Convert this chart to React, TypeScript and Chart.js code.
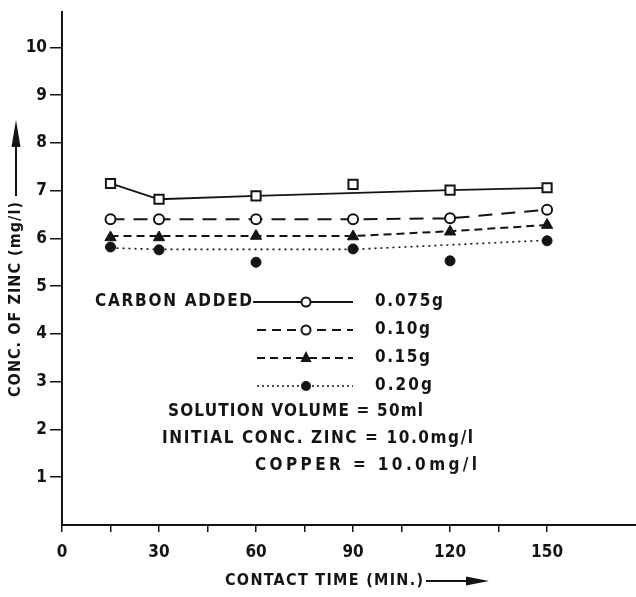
import React, { useEffect, useRef } from 'react';
import { Chart, registerables } from 'chart.js';

Chart.register(...registerables);

// ---- data ----
const contactTime = [15, 30, 60, 90, 120, 150];
const zinc075 = [7.15, 6.82, 6.89, 7.13, 7.01, 7.06];
const zinc010 = [6.4, 6.4, 6.4, 6.4, 6.42, 6.6];
const zinc015 = [6.02, 6.02, 6.05, 6.04, 6.14, 6.28];
const zinc020 = [5.82, 5.76, 5.5, 5.78, 5.53, 5.95];
// hand-drawn curves (null = marker lying off the curve)
const curve075 = [7.15, 6.82, 6.89, null, 7.01, 7.06];
const curve010 = [6.4, 6.4, 6.4, 6.4, 6.42, 6.6];
const curve015 = [6.05, 6.05, 6.05, 6.05, 6.15, 6.28];
const curve020 = [5.8, 5.77, null, 5.77, null, 5.96];

const xTickValues = [0, 15, 30, 45, 60, 75, 90, 105, 120, 135, 150];
const xLabelValues = [0, 30, 60, 90, 120, 150];
const yTickValues = [1, 2, 3, 4, 5, 6, 7, 8, 9, 10];

const legendLabels = ['0.075g', '0.10g', '0.15g', '0.20g'];
const legendTitle = 'CARBON ADDED';
const noteLines = ['SOLUTION VOLUME = 50ml', 'INITIAL CONC. ZINC = 10.0mg/l', 'COPPER = 10.0mg/l'];
const xTitle = 'CONTACT TIME (MIN.)';
const yTitle = 'CONC. OF ZINC (mg/l)';

const INK = '#141414';
const FONT = "'DejaVu Sans Condensed', 'DejaVu Sans', sans-serif";

const pts = (ys: (number | null)[]) => contactTime.map((x, i) => ({ x, y: ys[i] }));

function fitText(ctx: CanvasRenderingContext2D, text: string, x: number, y: number, width: number, font: string) {
  ctx.save();
  ctx.font = font;
  (ctx as any).letterSpacing = '0px';
  const w = ctx.measureText(text).width;
  const ls = text.length > 1 ? (width - w) / (text.length - 1) : 0;
  (ctx as any).letterSpacing = ls.toFixed(2) + 'px';
  ctx.textAlign = 'left';
  ctx.textBaseline = 'middle';
  ctx.fillStyle = INK;
  ctx.fillText(text, x, y);
  ctx.restore();
}

function marker(ctx: CanvasRenderingContext2D, kind: string, x: number, y: number) {
  ctx.save();
  ctx.lineWidth = 2;
  ctx.strokeStyle = INK;
  ctx.fillStyle = INK;
  ctx.setLineDash([]);
  ctx.beginPath();
  if (kind === 'openCircle') {
    ctx.arc(x, y, 4.5, 0, Math.PI * 2);
    ctx.fillStyle = '#fff';
    ctx.fill();
    ctx.stroke();
  } else if (kind === 'triangle') {
    ctx.moveTo(x, y - 7);
    ctx.lineTo(x + 5.5, y + 4);
    ctx.lineTo(x - 5.5, y + 4);
    ctx.closePath();
    ctx.fill();
  } else if (kind === 'dot') {
    ctx.arc(x, y, 5, 0, Math.PI * 2);
    ctx.fill();
  }
  ctx.restore();
}

const annotationPlugin = {
  id: 'annotations',
  afterDraw(chart: any) {
    const ctx: CanvasRenderingContext2D = chart.ctx;
    const font = `bold 17px ${FONT}`;
    // legend
    fitText(ctx, legendTitle, 95, 302, 157, font);
    const rows = [302, 330, 358, 386];
    const dashes = [[], [9, 6], [8, 5], [2, 3]];
    const kinds = ['openCircle', 'openCircle', 'triangle', 'dot'];
    const labelW = [68, 55, 55, 57];
    rows.forEach((ry, i) => {
      ctx.save();
      ctx.strokeStyle = INK;
      ctx.lineWidth = i === 3 ? 1.5 : 2;
      ctx.setLineDash(dashes[i]);
      ctx.beginPath();
      ctx.moveTo(i === 0 ? 253 : 257, ry);
      ctx.lineTo(353, ry);
      ctx.stroke();
      ctx.restore();
      marker(ctx, kinds[i], 306, ry);
      fitText(ctx, legendLabels[i], 375, ry, labelW[i], font);
    });
    // notes
    fitText(ctx, noteLines[0], 168, 412, 255, font);
    fitText(ctx, noteLines[1], 162, 439, 311, font);
    fitText(ctx, noteLines[2], 255, 466, 222, font);

    // x title with arrow
    fitText(ctx, xTitle, 225, 581, 198, `bold 16px ${FONT}`);
    ctx.save();
    ctx.strokeStyle = INK;
    ctx.fillStyle = INK;
    ctx.lineWidth = 2;
    ctx.beginPath();
    ctx.moveTo(426, 581);
    ctx.lineTo(468, 581);
    ctx.stroke();
    ctx.beginPath();
    ctx.moveTo(489, 581);
    ctx.lineTo(466, 576.5);
    ctx.lineTo(466, 585.5);
    ctx.closePath();
    ctx.fill();
    ctx.restore();

    // y title with arrow (rotated)
    ctx.save();
    ctx.translate(16, 397);
    ctx.rotate(-Math.PI / 2);
    fitText(ctx, yTitle, 0, 0, 195, `bold 16px ${FONT}`);
    ctx.strokeStyle = INK;
    ctx.fillStyle = INK;
    ctx.lineWidth = 2;
    ctx.beginPath();
    ctx.moveTo(201, 0);
    ctx.lineTo(252, 0);
    ctx.stroke();
    ctx.beginPath();
    ctx.moveTo(277, 0);
    ctx.lineTo(250, -4.5);
    ctx.lineTo(250, 4.5);
    ctx.closePath();
    ctx.fill();
    ctx.restore();
  },
};

export default function App() {
  const ref = useRef<HTMLCanvasElement | null>(null);
  useEffect(() => {
    if (!ref.current) return;
    const lineBase = { pointRadius: 0, borderColor: INK, spanGaps: true, fill: false, tension: 0, order: 2 };
    const markBase = { showLine: false, borderColor: INK, pointBorderColor: INK, pointBorderWidth: 2, order: 1 };
    const chart = new Chart(ref.current, {
      type: 'line',
      data: {
        datasets: [
          { ...lineBase, data: pts(curve075), borderWidth: 1.8 } as any,
          { ...lineBase, data: pts(curve010), borderWidth: 2, borderDash: [14, 9] } as any,
          { ...lineBase, data: pts(curve015), borderWidth: 2, borderDash: [8, 5] } as any,
          { ...lineBase, data: pts(curve020), borderWidth: 1.6, borderDash: [2, 4] } as any,
          { ...markBase, data: pts(zinc075), pointStyle: 'rect', pointRadius: 6.5, pointBackgroundColor: '#fff' } as any,
          { ...markBase, data: pts(zinc010), pointStyle: 'circle', pointRadius: 5, pointBackgroundColor: '#fff' } as any,
          { ...markBase, data: pts(zinc015), pointStyle: 'triangle', pointRadius: 6.5, pointBorderWidth: 1, pointBackgroundColor: INK } as any,
          { ...markBase, data: pts(zinc020), pointStyle: 'circle', pointRadius: 5, pointBorderWidth: 1, pointBackgroundColor: INK } as any,
        ],
      },
      options: {
        responsive: false,
        animation: false,
        events: [],
        layout: { autoPadding: false, padding: { top: 12, right: 0, left: 0, bottom: 0 } },
        plugins: { legend: { display: false }, tooltip: { enabled: false }, title: { display: false } },
        scales: {
          x: {
            type: 'linear',
            min: 0,
            max: 177.5,
            afterBuildTicks: (s: any) => { s.ticks = xTickValues.map((v) => ({ value: v })); },
            afterFit: (s: any) => { s.height = 72; s.paddingRight = 0; s.paddingLeft = 0; },
            ticks: {
              autoSkip: false,
              maxRotation: 0,
              padding: 10,
              color: INK,
              font: { family: FONT, size: 17, weight: 'bold' },
              callback: (v: any) => (xLabelValues.includes(Number(v)) ? String(v) : ''),
            },
            grid: { drawOnChartArea: false, drawTicks: true, tickLength: 7, color: INK, lineWidth: 1.5 },
            border: { display: true, color: INK, width: 2 },
          },
          y: {
            type: 'linear',
            min: 0,
            max: 10.74,
            afterBuildTicks: (s: any) => { s.ticks = yTickValues.map((v) => ({ value: v })); },
            afterFit: (s: any) => { s.width = 62; s.paddingTop = 0; s.paddingBottom = 0; },
            ticks: {
              autoSkip: false,
              padding: 3,
              color: INK,
              font: { family: FONT, size: 17, weight: 'bold' },
            },
            grid: { drawOnChartArea: false, drawTicks: true, tickLength: 12, color: INK, lineWidth: 1.5 },
            border: { display: true, color: INK, width: 2 },
          },
        },
      } as any,
      plugins: [annotationPlugin],
    });
    return () => chart.destroy();
  }, []);
  return (
    <div style={{ position: 'absolute', left: 0, top: 0, width: 636, height: 597, background: '#fff' }}>
      <canvas ref={ref} width={636} height={597} style={{ display: 'block' }} />
    </div>
  );
}
